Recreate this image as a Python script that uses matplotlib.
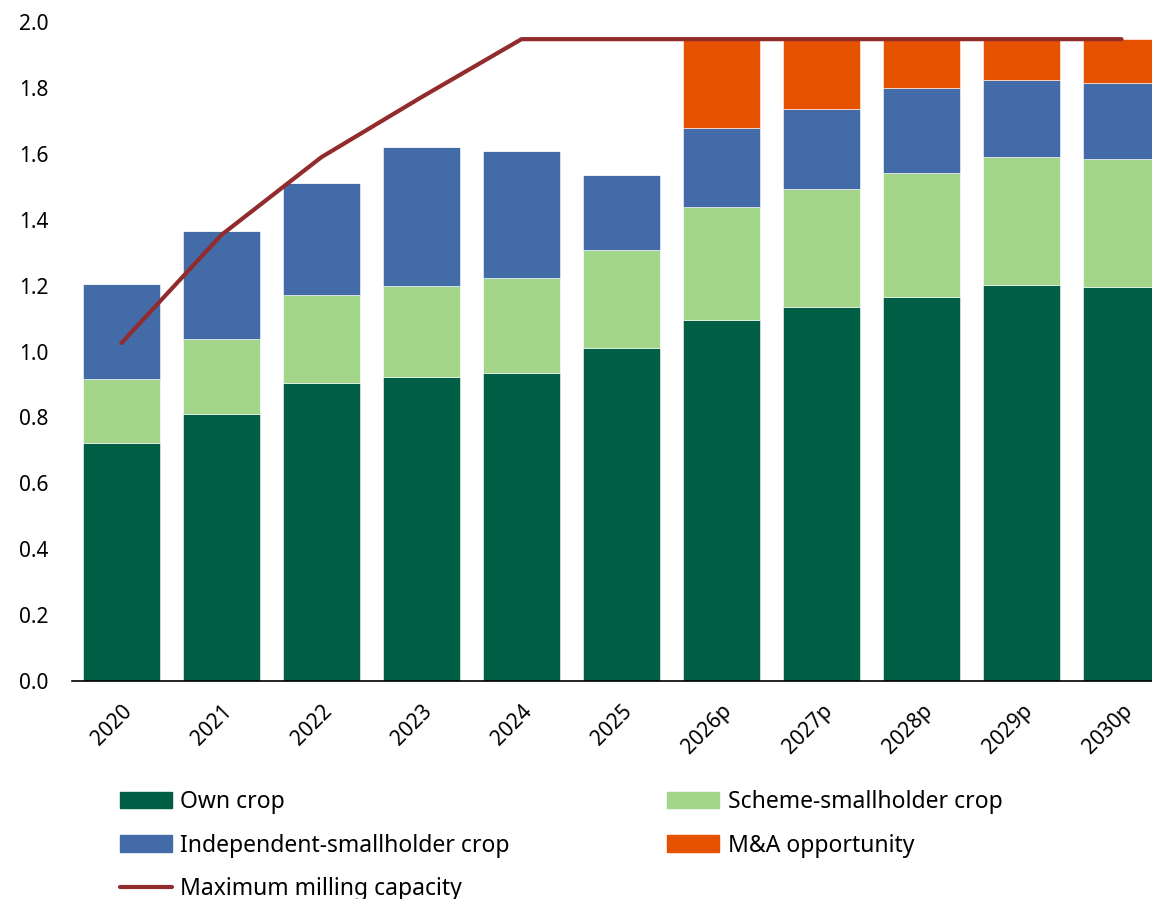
import numpy as np
import matplotlib
import matplotlib.pyplot as plt
from matplotlib.patches import Patch
from matplotlib.lines import Line2D

matplotlib.use("agg")
plt.rcParams["font.family"] = ["Noto Sans", "DejaVu Sans"]

years = ["2020", "2021", "2022", "2023", "2024", "2025",
         "2026p", "2027p", "2028p", "2029p", "2030p"]

# tonnes (m) by source, stacked
own_crop = [0.722, 0.810, 0.904, 0.923, 0.935, 1.011, 1.096, 1.135, 1.165, 1.202, 1.196]
scheme_crop = [0.195, 0.228, 0.267, 0.276, 0.288, 0.297, 0.343, 0.358, 0.377, 0.388, 0.388]
independent_crop = [0.288, 0.328, 0.340, 0.422, 0.385, 0.228, 0.239, 0.243, 0.258, 0.234, 0.231]
ma_opportunity = [0, 0, 0, 0, 0, 0, 0.270, 0.212, 0.148, 0.124, 0.133]
milling_capacity = [1.026, 1.354, 1.590, 1.772, 1.948, 1.948,
                    1.948, 1.948, 1.948, 1.948, 1.948]

c_own = "#005e45"
c_scheme = "#a3d68a"
c_indep = "#426ba8"
c_ma = "#e65100"
c_line = "#922b2b"

fig = plt.figure(figsize=(11.52, 8.99), dpi=100)
ax = fig.add_axes([0.0625, 0.2425, 0.9375, 0.733])

x = np.arange(len(years))
w = 0.77
bottom = np.zeros(len(years))
for vals, col in [(own_crop, c_own), (scheme_crop, c_scheme),
                  (independent_crop, c_indep), (ma_opportunity, c_ma)]:
    ax.bar(x, vals, w, bottom=bottom, color=col, edgecolor="white", linewidth=0.4, zorder=2)
    bottom += np.array(vals)

ax.plot(x, milling_capacity, color=c_line, lw=3, solid_capstyle="round", zorder=3)

ax.set_xlim(-0.495, 10.305)
ax.set_ylim(0, 2.0)
ax.set_yticks(np.arange(0, 2.01, 0.2))
ax.set_yticklabels([f"{v:.1f}" for v in np.arange(0, 2.01, 0.2)])
ax.set_xticks(x)
ax.set_xticklabels(years, rotation=45, ha="right", rotation_mode="anchor")
ax.tick_params(axis="y", length=0, pad=17, labelsize=15)
ax.tick_params(axis="x", length=0, pad=14, labelsize=15)
for s in ["top", "right", "left"]:
    ax.spines[s].set_visible(False)
ax.spines["bottom"].set_linewidth(1.2)

handles = [
    Patch(color=c_own, label="Own crop"),
    Patch(color=c_indep, label="Independent-smallholder crop"),
    Line2D([], [], color=c_line, lw=3, solid_capstyle="round", label="Maximum milling capacity"),
    Patch(color=c_scheme, label="Scheme-smallholder crop"),
    Patch(color=c_ma, label="M&A opportunity"),
]
fig.legend(handles=handles, ncol=2, loc="upper left", bbox_to_anchor=(0.104, 0.1207),
           frameon=False, fontsize=16.5, handlelength=2.27, handletextpad=0.35,
           labelspacing=0.83, columnspacing=6.9, borderpad=0, borderaxespad=0)

fig.savefig("out.png", dpi=100)
